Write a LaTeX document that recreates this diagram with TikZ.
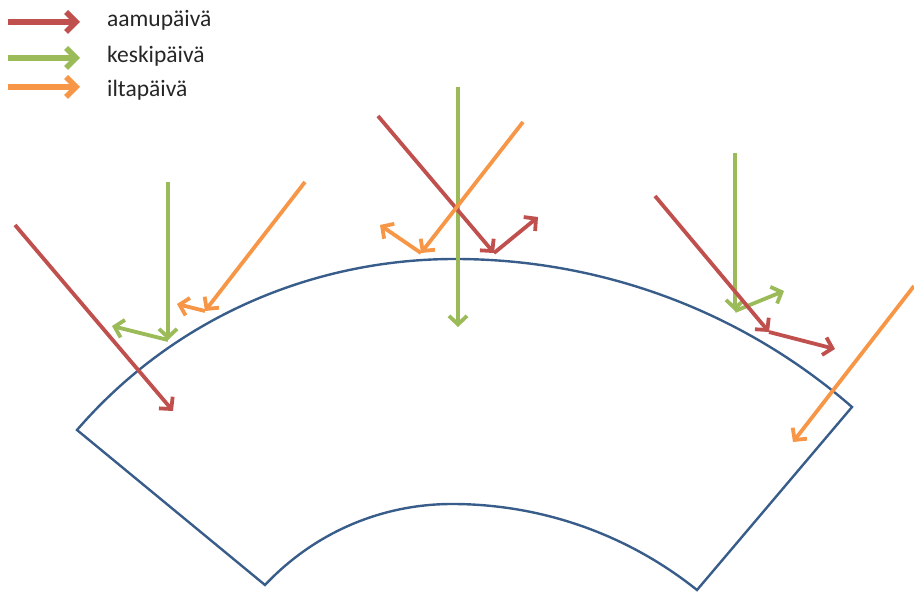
\documentclass[tikz,border=0pt]{standalone}
\usepackage{fontspec}
\setmainfont{Carlito}
\usetikzlibrary{arrows.meta}
\definecolor{aamu}{RGB}{192,80,77}
\definecolor{keski}{RGB}{155,187,89}
\definecolor{ilta}{RGB}{247,150,70}
\definecolor{reuna}{RGB}{56,93,138}
\tikzstyle{ray}=[line width=3.8pt,-{Straight Barb[length=8.5pt,width=18pt]}]
\tikzstyle{aamuray}=[ray,draw=aamu]
\tikzstyle{keskiray}=[ray,draw=keski]
\tikzstyle{iltaray}=[ray,draw=ilta]
\tikzstyle{legendray}=[line width=5.5pt,-{Straight Barb[length=10pt,width=20pt]}]
\tikzstyle{legendtext}=[anchor=base west,inner sep=0pt,font=\fontsize{23.5}{26}\selectfont,text=black!85]
\tikzstyle{edge}=[draw=reuna,line width=2.4pt,line join=miter]

\begin{document}
\begin{tikzpicture}[x=1pt,y=-1pt]
\useasboundingbox (0,0) rectangle (914,593);
% legend
    \coordinate (la1) at (8,22);  \coordinate (la2) at (80,22);
    \coordinate (lk1) at (8,58);  \coordinate (lk2) at (80,58);
    \coordinate (li1) at (8,87);  \coordinate (li2) at (80,87);
    \draw[legendray,draw=aamu] (la1) -- (la2);
    \draw[legendray,draw=keski] (lk1) -- (lk2);
    \draw[legendray,draw=ilta] (li1) -- (li2);
    \node[legendtext] (aamu) at (107,27) {aamupäivä};
    \node[legendtext] (keski) at (107,63) {keskipäivä};
    \node[legendtext] (ilta) at (107,97) {iltapäivä};
% block arc
    \coordinate (ul) at (77,430);
    \coordinate (ll) at (265,585);
    \coordinate (lr) at (697,590);
    \coordinate (ur) at (852,407);
    \coordinate (top) at (455,259);
    \coordinate (bot) at (452,504);
    \draw[edge] (ul) .. controls (172,320) and (310,259) .. (top)
        .. controls (601,259) and (742,311) .. (ur) -- (lr)
        .. controls (627,534) and (541,504) .. (bot)
        .. controls (381,504) and (314,533) .. (ll) -- cycle;
% left rays
    \coordinate (a1) at (15,225);  \coordinate (a1e) at (173,411);
    \coordinate (k1) at (168,182); \coordinate (k1h) at (168,340);
    \coordinate (k1r) at (112,326);
    \coordinate (i1) at (305,182); \coordinate (i1h) at (205,311);
    \coordinate (i1r) at (177,304);
    \draw[aamuray] (a1) -- (a1e);
    \draw[keskiray] (k1) -- (k1h);
    \draw[keskiray] (k1h) -- (k1r);
    \draw[iltaray] (i1) -- (i1h);
    \draw[iltaray] (i1h) -- (i1r);
% middle rays
    \coordinate (k2) at (458,87);  \coordinate (k2e) at (458,327);
    \coordinate (a2) at (378,116); \coordinate (a2h) at (494,253);
    \coordinate (a2r) at (538,217);
    \coordinate (i2) at (523,122); \coordinate (i2h) at (421,253);
    \coordinate (i2r) at (380,225);
    \draw[keskiray] (k2) -- (k2e);
    \draw[aamuray] (a2) -- (a2h);
    \draw[aamuray] (a2h) -- (a2r);
    \draw[iltaray] (i2) -- (i2h);
    \draw[iltaray] (i2h) -- (i2r);
% right rays
    \coordinate (k3) at (735,153); \coordinate (k3h) at (735,311);
    \coordinate (k3r) at (784,291);
    \coordinate (a3) at (655,196); \coordinate (a3h) at (769,332);
    \coordinate (a3r) at (835,349);
    \coordinate (i3) at (914,286); \coordinate (i3e) at (793,442);
    \draw[keskiray] (k3) -- (k3h);
    \draw[keskiray] (k3h) -- (k3r);
    \draw[aamuray] (a3) -- (a3h);
    \draw[aamuray] (a3h) -- (a3r);
    \draw[iltaray] (i3) -- (i3e);
\end{tikzpicture}
\end{document}
